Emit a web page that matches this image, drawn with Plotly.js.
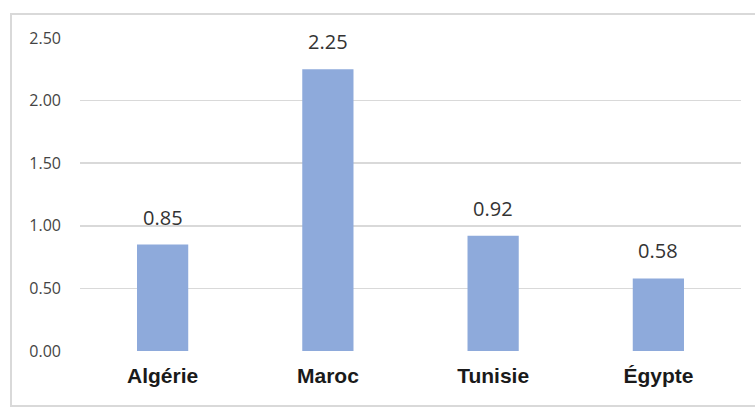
<!DOCTYPE html>
<html>
<head>
<meta charset="utf-8">
<script src="https://cdn.plot.ly/plotly-3.0.1.min.js"></script>
<style>
html,body{margin:0;padding:0;background:#fff;}
#chart{width:755px;height:408px;}
</style>
</head>
<body>
<div id="chart"></div>
<script>
const categories = ["Algérie", "Maroc", "Tunisie", "Égypte"];
const values = [0.85, 2.25, 0.92, 0.58];
const yTicks = [0, 0.5, 1.0, 1.5, 2.0, 2.5];
const yTickLabels = ["0.00", "0.50", "1.00", "1.50", "2.00", "2.50"];

const trace = {
  type: "bar",
  x: categories,
  y: values,
  marker: {color: "#8eaadb"},
  hoverinfo: "skip"
};

const annotations = categories.map((c, i) => ({
  x: c, y: values[i], xref: "x", yref: "y",
  text: values[i].toFixed(2),
  showarrow: false, yanchor: "bottom", yshift: 12,
  font: {family: "Open Sans, Noto Sans, sans-serif", size: 20, color: "#333333"}
}));

const layout = {
  width: 755, height: 408,
  margin: {l: 80, r: 14, t: 38, b: 57},
  paper_bgcolor: "#ffffff",
  plot_bgcolor: "#ffffff",
  bargap: 0.69,
  showlegend: false,
  xaxis: {
    type: "category",
    showgrid: false, zeroline: false, showline: false,
    ticks: "",
    tickfont: {family: "Liberation Sans, Arial, sans-serif", size: 21, color: "#1a1a1a", weight: "bold"},
    ticklabelstandoff: 10
  },
  yaxis: {
    range: [0, 2.5],
    tickvals: yTicks, ticktext: yTickLabels,
    showgrid: true, gridcolor: "#d9d9d9", gridwidth: 1.5,
    zeroline: false, showline: false, ticks: "",
    tickfont: {family: "Open Sans, Noto Sans, sans-serif", size: 16, color: "#444444"},
    ticklabelstandoff: 18
  },
  annotations: annotations,
  shapes: [{
    type: "rect", xref: "paper", yref: "paper",
    x0: -0.1044, x1: 1.04, y0: -0.1757, y1: 1.0767,
    line: {color: "#d9d9d9", width: 2},
    layer: "below"
  }]
};

Plotly.newPlot("chart", [trace], layout, {displayModeBar: false, staticPlot: true});
</script>
</body>
</html>
